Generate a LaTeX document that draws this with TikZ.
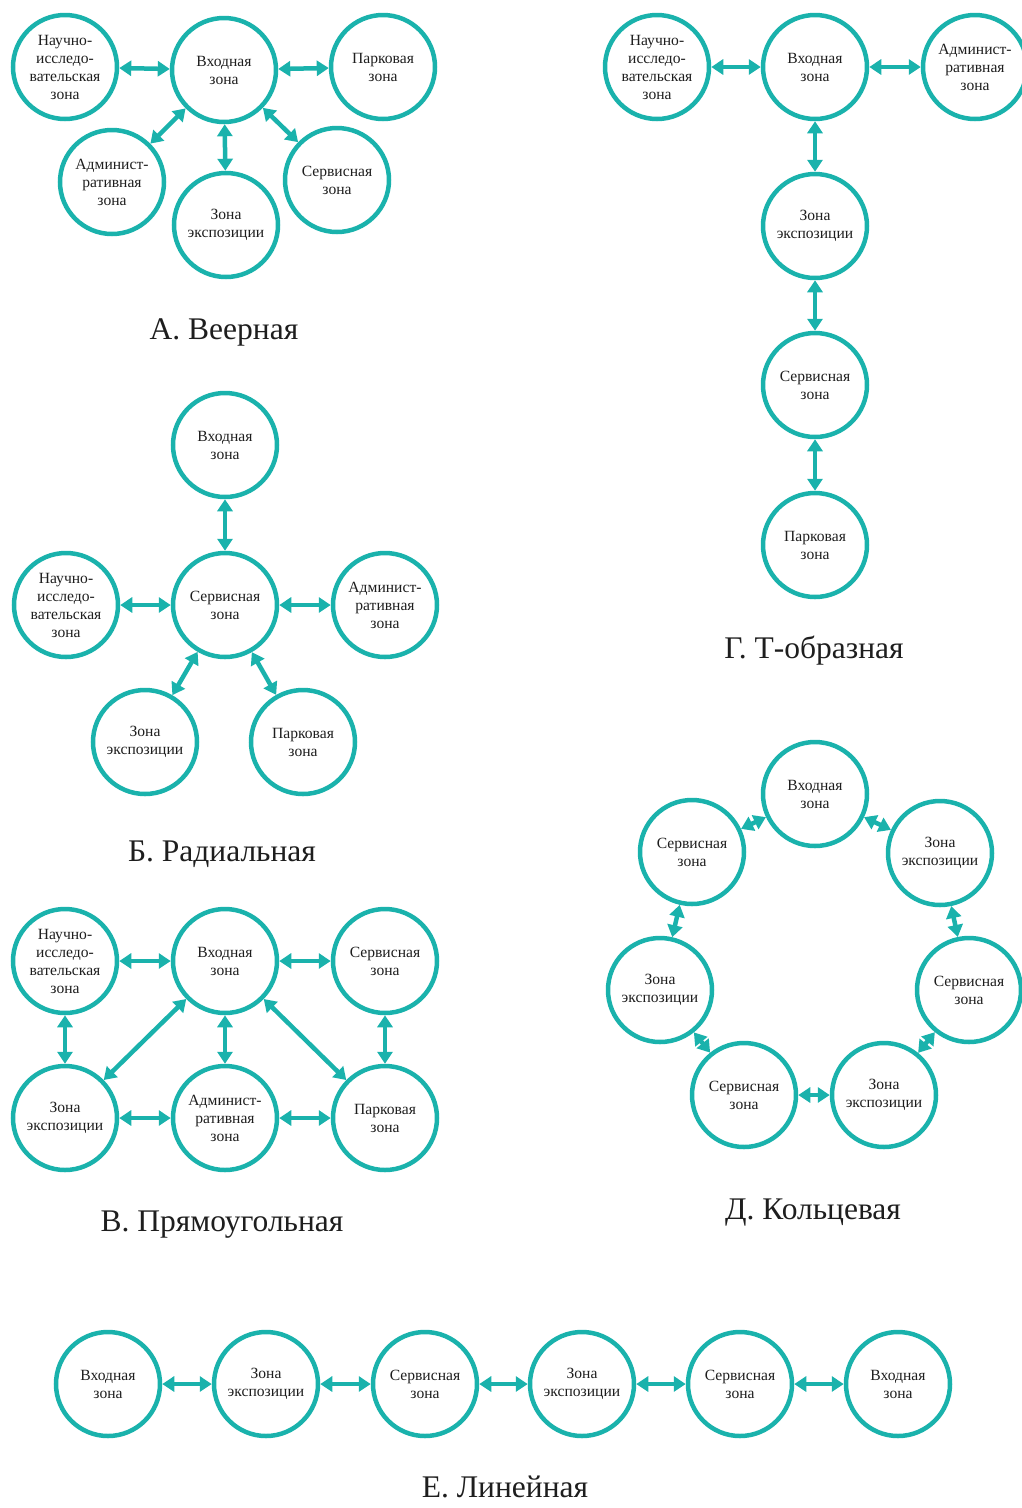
\documentclass[tikz,border=0pt]{standalone}
\usepackage{fontspec}
\setmainfont{Liberation Serif}
\usetikzlibrary{arrows.meta}
\definecolor{zc}{RGB}{26,178,172}
\definecolor{tx}{RGB}{30,30,30}
\begin{document}
\begin{tikzpicture}[x=1pt,y=-1pt,
 zone/.style={circle,draw=zc,line width=4.5pt,minimum size=104pt,inner sep=0pt,align=center,text=tx,font=\fontsize{15.6}{18}\selectfont},
 link/.style={draw=zc,line width=4.5pt,{Triangle[length=12pt,width=15pt]}-{Triangle[length=12pt,width=15pt]}},
 captext/.style={text=tx,font=\fontsize{31.5}{36}\selectfont}]
\useasboundingbox (0,0) rectangle (1022,1508);
% ---------- A
\node[zone] (a1) at (65,67) {Научно-\\исследо-\\вательская\\зона};
\node[zone] (a2) at (224,70) {Входная\\зона};
\node[zone] (a3) at (383,67) {Парковая\\зона};
\node[zone] (a4) at (112,182) {Админист-\\ративная\\зона};
\node[zone] (a5) at (226,225) {Зона\\экспозиции};
\node[zone] (a6) at (337,180) {Сервисная\\зона};
\draw[link] (a1) -- (a2);
\draw[link] (a2) -- (a3);
\draw[link] (a2) -- (a4);
\draw[link] (a2) -- (a5);
\draw[link] (a2) -- (a6);
\node[captext] (ca) at (224,332) {А. Веерная};
% ---------- G
\node[zone] (g1) at (657,67) {Научно-\\исследо-\\вательская\\зона};
\node[zone] (g2) at (815,67) {Входная\\зона};
\node[zone] (g3) at (975,67) {Админист-\\ративная\\зона};
\node[zone] (g4) at (815,226) {Зона\\экспозиции};
\node[zone] (g5) at (815,385) {Сервисная\\зона};
\node[zone] (g6) at (815,545) {Парковая\\зона};
\draw[link] (g1) -- (g2);
\draw[link] (g2) -- (g3);
\draw[link] (g2) -- (g4);
\draw[link] (g4) -- (g5);
\draw[link] (g5) -- (g6);
\node[captext] (cg) at (814,651) {Г. Т-образная};
% ---------- B
\node[zone] (b1) at (225,445) {Входная\\зона};
\node[zone] (b2) at (225,605) {Сервисная\\зона};
\node[zone] (b3) at (66,605) {Научно-\\исследо-\\вательская\\зона};
\node[zone] (b4) at (385,605) {Админист-\\ративная\\зона};
\node[zone] (b5) at (145,742) {Зона\\экспозиции};
\node[zone] (b6) at (303,742) {Парковая\\зона};
\draw[link] (b1) -- (b2);
\draw[link] (b3) -- (b2);
\draw[link] (b2) -- (b4);
\draw[link] (b2) -- (b5);
\draw[link] (b2) -- (b6);
\node[captext] (cb) at (222,854) {Б. Радиальная};
% ---------- V
\node[zone] (v1) at (65,961) {Научно-\\исследо-\\вательская\\зона};
\node[zone] (v2) at (225,961) {Входная\\зона};
\node[zone] (v3) at (385,961) {Сервисная\\зона};
\node[zone] (v4) at (65,1118) {Зона\\экспозиции};
\node[zone] (v5) at (225,1118) {Админист-\\ративная\\зона};
\node[zone] (v6) at (385,1118) {Парковая\\зона};
\draw[link] (v1) -- (v2);
\draw[link] (v2) -- (v3);
\draw[link] (v1) -- (v4);
\draw[link] (v2) -- (v4);
\draw[link] (v2) -- (v5);
\draw[link] (v2) -- (v6);
\draw[link] (v3) -- (v6);
\draw[link] (v4) -- (v5);
\draw[link] (v5) -- (v6);
\node[captext] (cv) at (222,1225) {В. Прямоугольная};
% ---------- D
\node[zone] (d1) at (815,794) {Входная\\зона};
\node[zone] (d2) at (940,853) {Зона\\экспозиции};
\node[zone] (d3) at (969,990) {Сервисная\\зона};
\node[zone] (d4) at (884,1095) {Зона\\экспозиции};
\node[zone] (d5) at (744,1095) {Сервисная\\зона};
\node[zone] (d6) at (660,990) {Зона\\экспозиции};
\node[zone] (d7) at (692,852) {Сервисная\\зона};
\draw[link] (d1) -- (d2);
\draw[link] (d2) -- (d3);
\draw[link] (d3) -- (d4);
\draw[link] (d4) -- (d5);
\draw[link] (d5) -- (d6);
\draw[link] (d6) -- (d7);
\draw[link] (d7) -- (d1);
\node[captext] (cd) at (813,1213) {Д. Кольцевая};
% ---------- E
\node[zone] (e1) at (108,1384) {Входная\\зона};
\node[zone] (e2) at (266,1384) {Зона\\экспозиции};
\node[zone] (e3) at (425,1384) {Сервисная\\зона};
\node[zone] (e4) at (582,1384) {Зона\\экспозиции};
\node[zone] (e5) at (740,1384) {Сервисная\\зона};
\node[zone] (e6) at (898,1384) {Входная\\зона};
\draw[link] (e1) -- (e2);
\draw[link] (e2) -- (e3);
\draw[link] (e3) -- (e4);
\draw[link] (e4) -- (e5);
\draw[link] (e5) -- (e6);
\node[captext] (ce) at (505,1487) {Е. Линейная};
\end{tikzpicture}
\end{document}
